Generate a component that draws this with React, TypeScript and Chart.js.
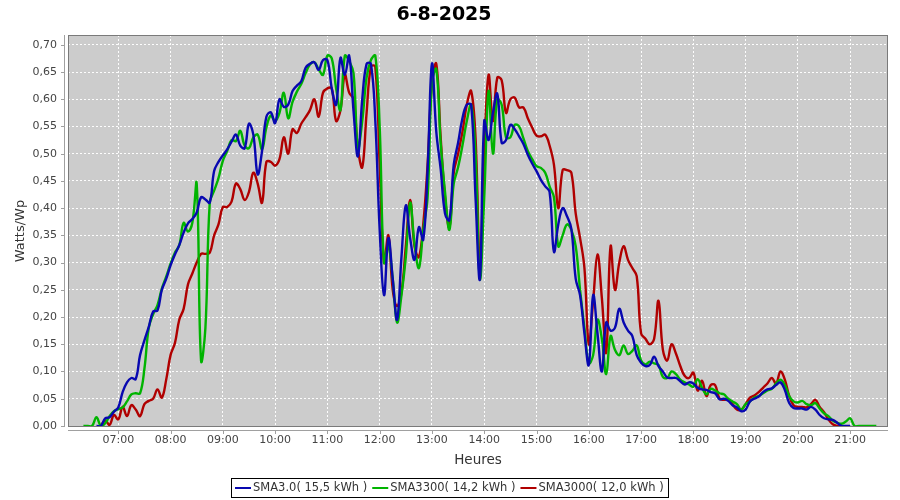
import React, { useEffect, useRef } from 'react';
import { Chart, registerables } from 'chart.js';

Chart.register(...registerables);

const CHART_TITLE = '6-8-2025';
const X_AXIS_TITLE = 'Heures';
const Y_AXIS_TITLE = 'Watts/Wp';
const SERIES_LABELS = ['SMA3.0( 15,5 kWh )', 'SMA3300( 14,2 kWh )', 'SMA3000( 12,0 kWh )'];
const SERIES_COLORS = ['#0808b0', '#00b400', '#b00000'];

// samples every 5 minutes, first sample at 06:20
const FIRST_SAMPLE_MIN = 380;
const SAMPLE_STEP_MIN = 5;

const X_MIN = 362.3;
const X_MAX = 1303.4;
const X_TICK_MINUTES = [420, 480, 540, 600, 660, 720, 780, 840, 900, 960, 1020, 1080, 1140, 1200, 1260];
const X_TICK_LABELS = ['07:00', '08:00', '09:00', '10:00', '11:00', '12:00', '13:00', '14:00', '15:00', '16:00', '17:00', '18:00', '19:00', '20:00', '21:00'];

const Y_MIN = -0.002;
const Y_MAX = 0.718;
const Y_TICK_VALUES = [0, 0.05, 0.1, 0.15, 0.2, 0.25, 0.3, 0.35, 0.4, 0.45, 0.5, 0.55, 0.6, 0.65, 0.7];
const Y_TICK_LABELS = ['0,00', '0,05', '0,10', '0,15', '0,20', '0,25', '0,30', '0,35', '0,40', '0,45', '0,50', '0,55', '0,60', '0,65', '0,70'];

const SMA30 = [
  null, null, null, 0, 0, 0.014, 0.016, 0.026,
  0.034, 0.062, 0.08, 0.088, 0.086, 0.13, 0.157, 0.182, 0.21, 0.212, 0.25, 0.27,
  0.295, 0.315, 0.332, 0.355, 0.372, 0.38, 0.392, 0.42, 0.416, 0.41, 0.468, 0.485,
  0.497, 0.508, 0.522, 0.535, 0.515, 0.51, 0.555, 0.535, 0.462, 0.505, 0.568, 0.576,
  0.556, 0.6, 0.586, 0.59, 0.615, 0.625, 0.633, 0.658, 0.665, 0.668, 0.654, 0.672,
  0.672, 0.62, 0.59, 0.676, 0.645, 0.68, 0.578, 0.495, 0.6, 0.665, 0.665, 0.56,
  0.36, 0.24, 0.345, 0.27, 0.195, 0.31, 0.405, 0.345, 0.305, 0.365, 0.342, 0.47,
  0.665, 0.54, 0.472, 0.39, 0.378, 0.48, 0.52, 0.565, 0.59, 0.59, 0.42, 0.27,
  0.56, 0.525, 0.575, 0.61, 0.52, 0.525, 0.553, 0.545, 0.532, 0.518, 0.498, 0.482,
  0.468, 0.452, 0.44, 0.43, 0.32, 0.37, 0.4, 0.385, 0.362, 0.27, 0.24, 0.17,
  0.112, 0.24, 0.17, 0.1, 0.19, 0.175, 0.18, 0.215, 0.19, 0.175, 0.165, 0.13,
  0.116, 0.11, 0.112, 0.127, 0.11, 0.1, 0.089, 0.088, 0.088, 0.082, 0.076, 0.08,
  0.078, 0.07, 0.067, 0.066, 0.062, 0.06, 0.049, 0.05, 0.046, 0.038, 0.034, 0.027,
  0.03, 0.045, 0.05, 0.054, 0.062, 0.067, 0.069, 0.075, 0.08, 0.066, 0.042, 0.033,
  0.032, 0.032, 0.03, 0.035, 0.03, 0.02, 0.014, 0.012, 0.011, 0.006, 0, 0,
  0, null, null, null, null, null, null,
];

const SMA3300 = [
  0, 0, 0, 0.016, 0, 0.005, 0.018, 0.027,
  0.031, 0.034, 0.045, 0.058, 0.06, 0.06, 0.105, 0.18, 0.205, 0.222, 0.252, 0.274,
  0.298, 0.318, 0.332, 0.373, 0.357, 0.373, 0.445, 0.12, 0.18, 0.41, 0.432, 0.455,
  0.487, 0.505, 0.525, 0.523, 0.542, 0.515, 0.51, 0.53, 0.535, 0.508, 0.548, 0.57,
  0.56, 0.575, 0.612, 0.565, 0.595, 0.614, 0.628, 0.648, 0.664, 0.668, 0.655, 0.645,
  0.68, 0.675, 0.62, 0.58, 0.68, 0.67, 0.648, 0.51, 0.56, 0.64, 0.672, 0.68,
  0.55, 0.3, 0.33, 0.27, 0.19, 0.24, 0.31, 0.41, 0.335, 0.29, 0.36, 0.42,
  0.63, 0.655, 0.52, 0.43, 0.36, 0.445, 0.475, 0.515, 0.56, 0.59, 0.5, 0.27,
  0.42, 0.615, 0.5, 0.6, 0.59, 0.53, 0.53, 0.553, 0.55, 0.528, 0.505, 0.49,
  0.477, 0.474, 0.465, 0.44, 0.42, 0.33, 0.35, 0.37, 0.36, 0.33, 0.25, 0.18,
  0.115, 0.13, 0.195, 0.16, 0.095, 0.165, 0.14, 0.13, 0.148, 0.132, 0.138, 0.148,
  0.12, 0.113, 0.118, 0.115, 0.112, 0.09, 0.088, 0.1, 0.095, 0.085, 0.08, 0.076,
  0.072, 0.086, 0.07, 0.058, 0.068, 0.065, 0.06, 0.058, 0.05, 0.045, 0.04, 0.03,
  0.04, 0.045, 0.052, 0.055, 0.06, 0.065, 0.068, 0.078, 0.085, 0.075, 0.055, 0.045,
  0.043, 0.046, 0.04, 0.038, 0.042, 0.032, 0.023, 0.018, 0.01, 0.006, 0.004, 0.008,
  0.014, 0, 0, 0, 0, 0, 0,
];

const SMA3000 = [
  null, null, null, null, 0, 0.01, 0.002, 0.02,
  0.012, 0.035, 0.018, 0.038, 0.03, 0.018, 0.04, 0.046, 0.05, 0.067, 0.052, 0.085,
  0.13, 0.152, 0.195, 0.215, 0.26, 0.28, 0.3, 0.316, 0.316, 0.318, 0.35, 0.37,
  0.402, 0.402, 0.412, 0.445, 0.435, 0.415, 0.43, 0.465, 0.445, 0.41, 0.485, 0.485,
  0.478, 0.49, 0.53, 0.5, 0.545, 0.538, 0.555, 0.567, 0.58, 0.6, 0.568, 0.612,
  0.62, 0.62, 0.56, 0.58, 0.645, 0.612, 0.6, 0.51, 0.475, 0.575, 0.66, 0.66,
  0.48, 0.3, 0.35, 0.25, 0.22, 0.245, 0.33, 0.415, 0.33, 0.31, 0.37, 0.48,
  0.63, 0.665, 0.53, 0.42, 0.365, 0.465, 0.5, 0.54, 0.59, 0.615, 0.53, 0.3,
  0.5, 0.645, 0.56, 0.64, 0.635, 0.575, 0.6, 0.603, 0.585, 0.585, 0.565, 0.548,
  0.533, 0.532, 0.535, 0.515, 0.48, 0.4, 0.47, 0.47, 0.465, 0.39, 0.345, 0.29,
  0.15, 0.23, 0.315, 0.235, 0.135, 0.33, 0.25, 0.3, 0.33, 0.305, 0.29, 0.275,
  0.17, 0.16, 0.15, 0.16, 0.23, 0.14, 0.12, 0.15, 0.133, 0.11, 0.092, 0.088,
  0.098, 0.065, 0.083, 0.055, 0.075, 0.075, 0.05, 0.048, 0.048, 0.04, 0.03, 0.03,
  0.04, 0.052, 0.056, 0.062, 0.07, 0.078, 0.088, 0.078, 0.1, 0.085, 0.055, 0.038,
  0.035, 0.035, 0.034, 0.04, 0.048, 0.035, 0.025, 0.012, 0.003, 0, 0, null,
  null, null, null, null, null, null, null,
];

const SERIES_VALUES = [SMA30, SMA3300, SMA3000];

const FONT = '"DejaVu Sans", Verdana, sans-serif';
const PLOT_BG = '#cccccc';

const toPoints = (vals: (number | null)[]) =>
  vals.map((v, i) => ({ x: FIRST_SAMPLE_MIN + i * SAMPLE_STEP_MIN, y: v }));

const framePlugin = {
  id: 'frame',
  beforeDraw(chart: any) {
    const { ctx, chartArea: a } = chart;
    ctx.save();
    ctx.fillStyle = PLOT_BG;
    ctx.fillRect(a.left, a.top, a.right - a.left, a.bottom - a.top);
    ctx.restore();
  },
  afterDraw(chart: any) {
    const { ctx, chartArea: a } = chart;
    const xs = chart.scales.x;
    const ys = chart.scales.y;
    const L = Math.round(a.left);
    const T = Math.round(a.top);
    const R = Math.round(a.right);
    const B = Math.round(a.bottom);
    ctx.save();
    // plot border
    ctx.lineWidth = 1;
    ctx.strokeStyle = '#7a7a7a';
    ctx.strokeRect(L + 0.5, T + 0.5, R - L - 1, B - T - 1);
    // offset axes
    ctx.strokeStyle = '#a0a0a0';
    ctx.beginPath();
    ctx.moveTo(L - 3.5, T);
    ctx.lineTo(L - 3.5, B);
    ys.ticks.forEach((t: any) => {
      const py = Math.round(ys.getPixelForValue(t.value)) + 0.5;
      ctx.moveTo(L - 7, py);
      ctx.lineTo(L - 3.5, py);
    });
    ctx.moveTo(L, B + 3.5);
    ctx.lineTo(R, B + 3.5);
    xs.ticks.forEach((t: any) => {
      const px = Math.round(xs.getPixelForValue(t.value)) + 0.5;
      ctx.moveTo(px, B + 3.5);
      ctx.lineTo(px, B + 7);
    });
    ctx.stroke();

    // legend box
    ctx.font = '11.5px ' + FONT;
    const items = chart.data.datasets.map((d: any) => ({
      label: d.label,
      color: d.borderColor,
      w: ctx.measureText(d.label).width,
    }));
    const padL = 4, lineW = 16, gapLT = 2, gapItem = 5, padR = 4;
    let total = padL + padR + gapItem * (items.length - 1);
    items.forEach((it: any) => { total += lineW + gapLT + it.w; });
    total = Math.round(total);
    const cx = 449;
    const top = 478;
    const h = 19;
    const left = Math.round(cx - total / 2);
    ctx.strokeStyle = '#000';
    ctx.lineWidth = 1;
    ctx.strokeRect(left + 0.5, top + 0.5, total, h);
    let x = left + padL;
    const midY = top + h / 2 + 0.5;
    ctx.textBaseline = 'middle';
    ctx.textAlign = 'left';
    items.forEach((it: any) => {
      ctx.strokeStyle = it.color;
      ctx.lineWidth = 2;
      ctx.beginPath();
      ctx.moveTo(x, midY);
      ctx.lineTo(x + lineW, midY);
      ctx.stroke();
      x += lineW + gapLT;
      ctx.fillStyle = '#333';
      ctx.fillText(it.label, x, midY);
      x += it.w + gapItem;
    });
    ctx.restore();
  },
};

export default function App() {
  const canvasRef = useRef<HTMLCanvasElement | null>(null);

  useEffect(() => {
    if (!canvasRef.current) return;
    const chart = new Chart(canvasRef.current, {
      type: 'line',
      data: {
        datasets: SERIES_VALUES.map((vals, i) => ({
          label: SERIES_LABELS[i],
          data: toPoints(vals),
          borderColor: SERIES_COLORS[i],
          backgroundColor: SERIES_COLORS[i],
          borderWidth: 2.4,
          pointRadius: 0,
          tension: 0.4,
          fill: false,
          spanGaps: false,
        })),
      },
      options: {
        responsive: false,
        animation: false,
        events: [],
        layout: { padding: { left: 0, right: 12, top: 0, bottom: 30 } },
        plugins: {
          legend: { display: false },
          tooltip: { enabled: false },
          title: {
            display: true,
            text: CHART_TITLE,
            color: '#000',
            font: { family: FONT, size: 19, weight: 'bold', lineHeight: 1.2 },
            padding: { top: 4, bottom: 8.2 },
          },
        },
        scales: {
          x: {
            type: 'linear',
            min: X_MIN,
            max: X_MAX,
            afterFit: (s: any) => { s.height = 43; },
            afterBuildTicks: (s: any) => { s.ticks = X_TICK_MINUTES.map((v) => ({ value: v })); },
            ticks: {
              callback: (_v: any, i: number) => X_TICK_LABELS[i],
              font: { family: FONT, size: 11 },
              color: '#444',
              padding: 7,
              maxRotation: 0,
              autoSkip: false,
            },
            grid: { color: 'rgba(255,255,255,0.95)', lineWidth: 1, drawTicks: false },
            border: { display: false, dash: [2, 2] },
            title: {
              display: true,
              text: X_AXIS_TITLE,
              color: '#333',
              font: { family: FONT, size: 13.5, lineHeight: 1.2 },
              padding: { top: 0, bottom: 1 },
            },
          },
          y: {
            type: 'linear',
            min: Y_MIN,
            max: Y_MAX,
            afterFit: (s: any) => { s.width = 68; },
            afterBuildTicks: (s: any) => { s.ticks = Y_TICK_VALUES.map((v) => ({ value: v })); },
            ticks: {
              callback: (_v: any, i: number) => Y_TICK_LABELS[i],
              font: { family: FONT, size: 11 },
              color: '#444',
              padding: 11,
              autoSkip: false,
            },
            grid: {
              color: (c: any) => (c.index === 0 ? 'rgba(0,0,0,0)' : 'rgba(255,255,255,0.95)'),
              lineWidth: 1,
              drawTicks: false,
            },
            border: { display: false, dash: [2, 2] },
            title: {
              display: true,
              text: Y_AXIS_TITLE,
              color: '#333',
              font: { family: FONT, size: 13, lineHeight: 1.2 },
              padding: { top: 12.5, bottom: 0 },
            },
          },
        },
      },
      plugins: [framePlugin],
    } as any);
    return () => chart.destroy();
  }, []);

  return (
    <div style={{ position: 'absolute', left: 0, top: 0, width: 900, height: 500, background: '#fff' }}>
      <canvas ref={canvasRef} width={900} height={500} style={{ display: 'block' }} />
    </div>
  );
}
